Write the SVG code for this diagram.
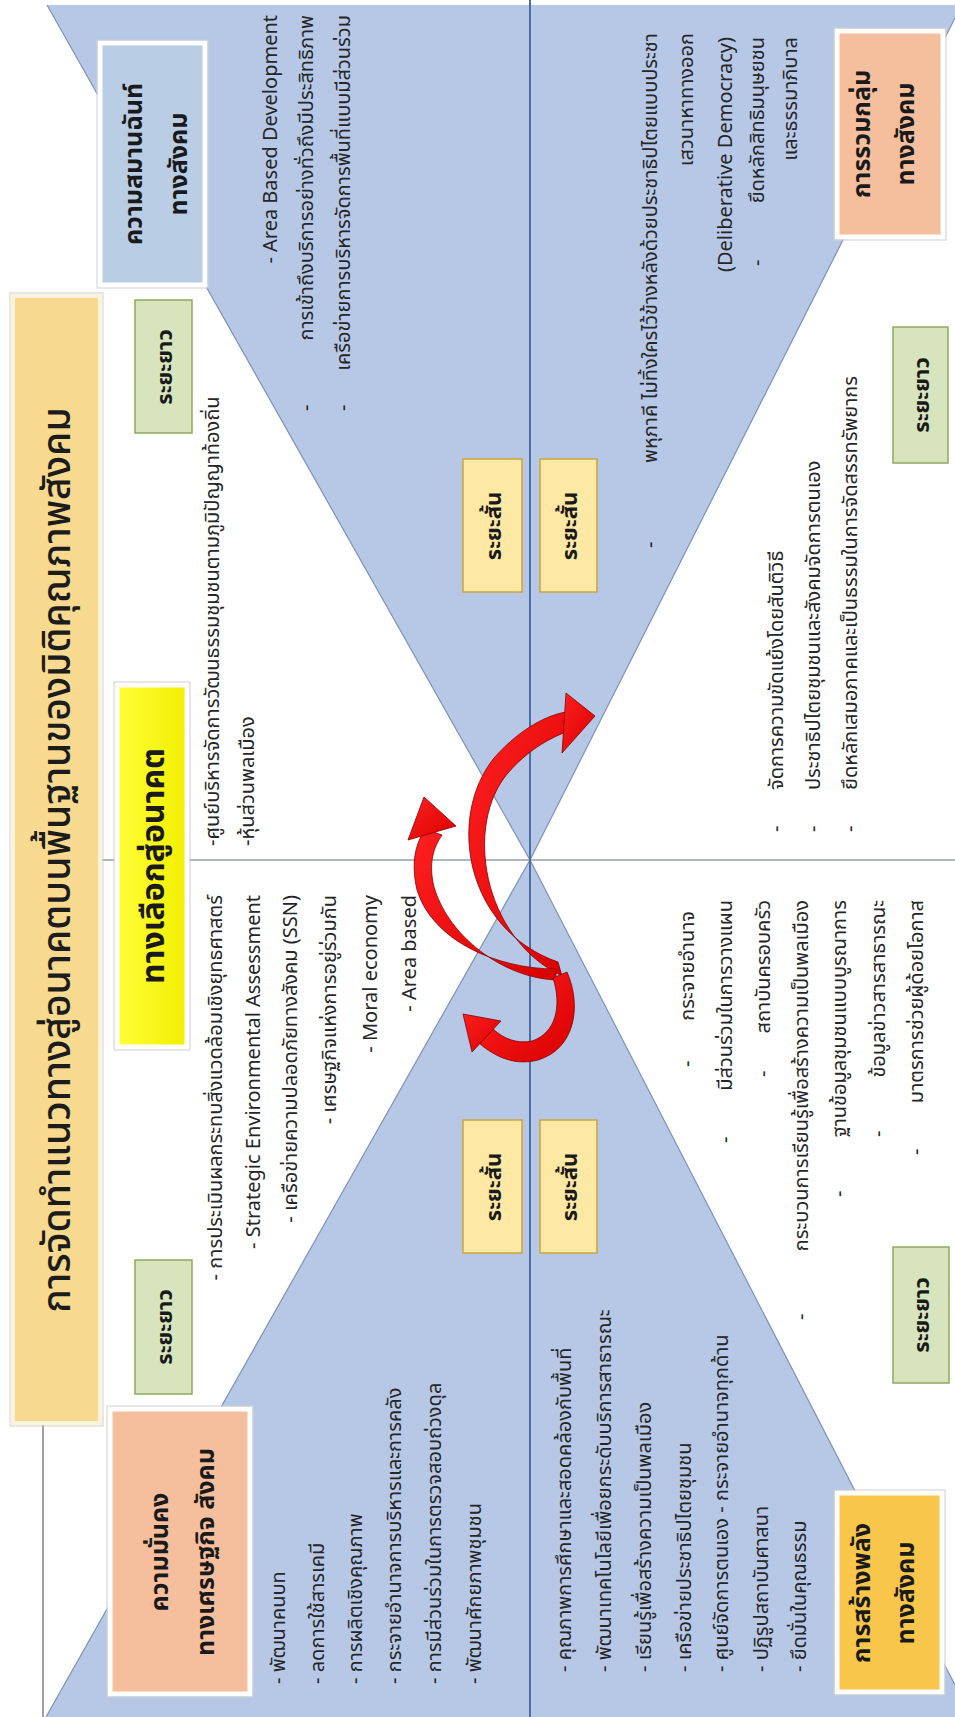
<svg xmlns="http://www.w3.org/2000/svg" width="955" height="1717" viewBox="0 0 955 1717">
<defs>
<style>
.t{font-family:"Noto Sans Thai","Noto Sans Thai UI","Noto Sans","DejaVu Sans",sans-serif;fill:#262626;font-size:20px}
.bx{font-weight:bold;fill:#1a1a1a}
.big{font-size:25px}
.lbl{font-size:22px}
.ttl{font-size:39px;font-weight:500;fill:#1c1c1c}
.ctr{font-size:32px}
.mid{text-anchor:middle}
.end{text-anchor:end}
.card{stroke:#ffffff;stroke-width:5}
.frame{fill:none;stroke:#cfcfcf;stroke-width:1}
.green{fill:#d7e4bd;stroke:#8eaa5e;stroke-width:1.5}
.short{fill:#fde8a4;stroke:#c9a43e;stroke-width:1.5}
.tri{fill:#b6c8e6}
.diag{stroke:#7d92b6;stroke-width:1.2;fill:none}
.arrow{fill:url(#red);stroke:#8a0000;stroke-width:0.8}
</style>
<linearGradient id="yel" x1="0" y1="0" x2="0" y2="1">
<stop offset="0" stop-color="#ffff3a"/><stop offset="1" stop-color="#f2ee00"/>
</linearGradient>
<linearGradient id="red" x1="0" y1="0" x2="1" y2="1">
<stop offset="0" stop-color="#ff2020"/><stop offset="1" stop-color="#d80000"/>
</linearGradient>
</defs>
<rect width="955" height="1717" fill="#ffffff"/>
<g id="background">
<polygon class="tri" points="47,5 955,5 955,18 530,860"/>
<polygon class="tri" points="530,860 955,1685 955,1717 46,1717"/>
<path class="diag" d="M47,5 L530,860 L955,18 M46,1717 L530,860 L955,1685"/>
<line x1="530" y1="0" x2="530" y2="1717" stroke="#4a6fa5" stroke-width="2"/>
<line x1="100" y1="860" x2="955" y2="860" stroke="#5a6e8c" stroke-width="1.2"/>
<line x1="43" y1="1420" x2="43" y2="1717" stroke="#444" stroke-width="1"/>
</g>
<g transform="translate(0,1717) rotate(-90)">
<g id="title">
<rect x="294" y="13" width="1127" height="87" fill="#f7d98f" stroke="#fbf3dc" stroke-width="4"/>
<rect x="291" y="10" width="1133" height="93" class="frame"/>
<text class="t ttl mid" x="857" y="70">การจัดทำแนวทางสู่อนาคตบนพื้นฐานของมิติคุณภาพสังคม</text>
</g>
<g id="economic-security">
<rect x="23" y="110" width="285" height="140" fill="#f5bf9e" class="card"/>
<rect x="20" y="107" width="291" height="146" class="frame"/>
<text class="t bx big mid" x="165" y="168">ความมั่นคง</text>
<text class="t bx big mid" x="165" y="214">ทางเศรษฐกิจ สังคม</text>
</g>
<g id="social-cohesion">
<rect x="1432" y="100" width="242" height="105" fill="#b9cde5" class="card"/>
<rect x="1429" y="97" width="248" height="111" class="frame"/>
<text class="t bx big mid" x="1553" y="142">ความสมานฉันท์</text>
<text class="t bx big mid" x="1553" y="187">ทางสังคม</text>
</g>
<g id="social-inclusion">
<rect x="1480" y="837" width="206" height="106" fill="#f5bf9e" class="card"/>
<rect x="1477" y="834" width="212" height="112" class="frame"/>
<text class="t bx big mid" x="1583" y="870">การรวมกลุ่ม</text>
<text class="t bx big mid" x="1583" y="914">ทางสังคม</text>
</g>
<g id="social-empowerment">
<rect x="25" y="837" width="199" height="105" fill="#f8c64a" class="card"/>
<rect x="22" y="834" width="205" height="111" class="frame"/>
<text class="t bx big mid" x="124" y="870">การสร้างพลัง</text>
<text class="t bx big mid" x="124" y="914">ทางสังคม</text>
</g>
<g id="future-options">
<rect x="670" y="117" width="362" height="70" fill="url(#yel)" class="card"/>
<rect x="667" y="114" width="368" height="76" class="frame"/>
<text class="t bx ctr mid" x="851" y="164">ทางเลือกสู่อนาคต</text>
</g>
<g id="long-term-1"><rect class="green" x="323" y="135" width="134" height="57"/><text class="t bx lbl mid" x="390" y="172">ระยะยาว</text></g>
<g id="long-term-2"><rect class="green" x="1284" y="135" width="133" height="57"/><text class="t bx lbl mid" x="1350" y="172">ระยะยาว</text></g>
<g id="long-term-3"><rect class="green" x="1254" y="893" width="136" height="55"/><text class="t bx lbl mid" x="1322" y="929">ระยะยาว</text></g>
<g id="long-term-4"><rect class="green" x="334" y="893" width="136" height="56"/><text class="t bx lbl mid" x="402" y="929">ระยะยาว</text></g>
<g id="short-term-1"><rect class="short" x="1125" y="463" width="133" height="59"/><text class="t bx lbl mid" x="1191" y="501">ระยะสั้น</text></g>
<g id="short-term-2"><rect class="short" x="1125" y="540" width="133" height="57"/><text class="t bx lbl mid" x="1191" y="577">ระยะสั้น</text></g>
<g id="short-term-3"><rect class="short" x="464" y="463" width="133" height="59"/><text class="t bx lbl mid" x="530" y="501">ระยะสั้น</text></g>
<g id="short-term-4"><rect class="short" x="464" y="540" width="133" height="57"/><text class="t bx lbl mid" x="530" y="577">ระยะสั้น</text></g>
<g id="economic-items">
<text class="t" x="33" y="285">- พัฒนาคนบท</text>
<text class="t" x="33" y="324">- ลดการใช้สารเคมี</text>
<text class="t" x="33" y="362">- การผลิตเชิงคุณภาพ</text>
<text class="t" x="33" y="401">- กระจายอำนาจการบริหารและการคลัง</text>
<text class="t" x="33" y="441">- การมีส่วนร่วมในการตรวจสอบถ่วงดุล</text>
<text class="t" x="33" y="481">- พัฒนาศักยภาพชุมชน</text>
</g>
<g id="empowerment-items">
<text class="t" x="45" y="571">- คุณภาพการศึกษาและสอดคล้องกับพื้นที่</text>
<text class="t" x="45" y="611">- พัฒนาเทคโนโลยีเพื่อยกระดับบริการสาธารณะ</text>
<text class="t" x="45" y="651">- เรียนรู้เพื่อสร้างความเป็นพลเมือง</text>
<text class="t" x="45" y="691">- เครือข่ายประชาธิปไตยชุมชน</text>
<text class="t" x="45" y="728">- ศูนย์จัดการตนเอง - กระจายอำนาจทุกด้าน</text>
<text class="t" x="45" y="768">- ปฏิรูปสถาบันศาสนา</text>
<text class="t" x="45" y="806">- ยึดมั่นในคุณธรรม</text>
</g>
<g id="future-items-left">
<text class="t end" x="822" y="222">- การประเมินผลกระทบสิ่งแวดล้อมเชิงยุทธศาสตร์</text>
<text class="t end" x="822" y="260">- Strategic Environmental Assessment</text>
<text class="t end" x="822" y="297">- เครือข่ายความปลอดภัยทางสังคม (SSN)</text>
<text class="t end" x="822" y="336">- เศรษฐกิจแห่งการอยู่ร่วมกัน</text>
<text class="t end" x="822" y="377">- Moral economy</text>
<text class="t end" x="822" y="416">- Area based</text>
</g>
<g id="future-items-right">
<text class="t" x="871" y="219">-ศูนย์บริหารจัดการวัฒนธรรมชุมชนตามภูมิปัญญาท้องถิ่น</text>
<text class="t" x="871" y="254">-หุ้นส่วนพลเมือง</text>
</g>
<g id="cohesion-items">
<text class="t end" x="1702" y="277">- Area Based Development</text>
<text class="t" x="1306" y="313">-</text>
<text class="t end" x="1702" y="313">การเข้าถึงบริการอย่างทั่วถึงมีประสิทธิภาพ</text>
<text class="t" x="1306" y="350">-</text>
<text class="t end" x="1702" y="350">เครือข่ายการบริหารจัดการพื้นที่แบบมีส่วนร่วม</text>
</g>
<g id="inclusion-items">
<text class="t" x="1169" y="657">-</text>
<text class="t end" x="1684" y="657">พหุภาคี ไม่ทิ้งใครไว้ข้างหลังด้วยประชาธิปไตยแบบประชา</text>
<text class="t end" x="1684" y="693">เสวนาหาทางออก</text>
<text class="t end" x="1680" y="732">(Deliberative Democracy)</text>
<text class="t" x="1451" y="764">-</text>
<text class="t end" x="1680" y="764">ยึดหลักสิทธิมนุษยชน</text>
<text class="t end" x="1680" y="797">และธรรมาภิบาล</text>
</g>
<g id="bottom-items-right">
<text class="t" x="885" y="783">-</text>
<text class="t" x="927" y="783">จัดการความขัดแย้งโดยสันติวิธี</text>
<text class="t" x="885" y="820">-</text>
<text class="t" x="927" y="820">ประชาธิปไตยชุมชนและสังคมจัดการตนเอง</text>
<text class="t" x="885" y="857">-</text>
<text class="t" x="927" y="857">ยึดหลักเสมอภาคและเป็นธรรมในการจัดสรรทรัพยากร</text>
</g>
<g id="bottom-items-left">
<text class="t" x="650" y="694">-</text>
<text class="t end" x="806" y="694">กระจายอำนาจ</text>
<text class="t" x="574" y="732">-</text>
<text class="t end" x="817" y="732">มีส่วนร่วมในการวางแผน</text>
<text class="t" x="640" y="770">-</text>
<text class="t end" x="817" y="770">สถาบันครอบครัว</text>
<text class="t" x="397" y="808">-</text>
<text class="t end" x="817" y="808">กระบวนการเรียนรู้เพื่อสร้างความเป็นพลเมือง</text>
<text class="t" x="520" y="846">-</text>
<text class="t end" x="817" y="846">ฐานข้อมูลชุมชนแบบบูรณาการ</text>
<text class="t" x="580" y="885">-</text>
<text class="t end" x="817" y="885">ข้อมูลข่าวสารสาธารณะ</text>
<text class="t" x="562" y="923">-</text>
<text class="t end" x="817" y="923">มาตรการช่วยผู้ด้อยโอกาส</text>
</g>
</g>
<g id="connectors">
<path class="arrow" d="M558,962 C466,930 446,818 494,758 C515,734 542,716 566,712 L566,732 C548,739 527,751 508,773 C464,824 482,938 562,976 Z"/>
<polygon class="arrow" points="595,716 566,693 562,753"/>
<path class="arrow" d="M556,969 C496,969 432,940 417,890 C410,860 417,842 425,829 L442,835 C434,847 428,862 434,887 C448,936 503,978 556,980 Z"/>
<polygon class="arrow" points="424,797 456,826 408,840"/>
<path class="arrow" d="M567,972 C582,1006 575,1049 538,1060 C515,1066 495,1057 479,1043 L493,1029 C504,1039 517,1044 532,1041 C556,1033 562,1006 553,978 Z"/>
<polygon class="arrow" points="463,1014 501,1021 472,1052"/>
</g>
</svg>
